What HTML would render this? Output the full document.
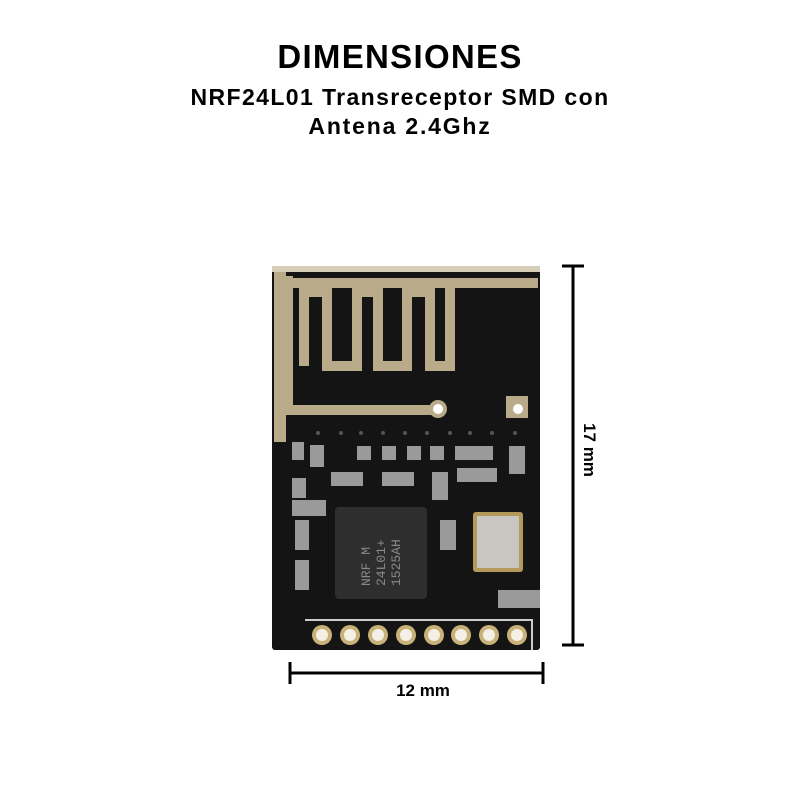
<!DOCTYPE html>
<html><head><style>
body{margin:0;width:800px;height:800px;background:#fff;overflow:hidden;position:relative;font-family:"Liberation Sans",sans-serif;}
.t{position:absolute;left:0;width:800px;text-align:center;font-weight:bold;color:#000;}
</style></head><body>
<div class="t" style="top:38px;font-size:33px;letter-spacing:1.3px">DIMENSIONES</div>
<div class="t" style="top:84px;font-size:23px;letter-spacing:1.4px">NRF24L01 Transreceptor SMD con</div>
<div class="t" style="top:113px;font-size:23px;letter-spacing:1.8px">Antena 2.4Ghz</div>
<svg width="800" height="800" style="position:absolute;left:0;top:0">
<rect x="272" y="266" width="268" height="384" fill="#141414" rx="3"/>
<rect x="272" y="266" width="268" height="6" fill="#d6ceb8"/>
<g fill="none" stroke="#b9aa8a" stroke-width="10">
<path d="M538 283 H450 V366 H430 V292 H407 V366 H378 V292 H357 V366 H327 V292 H304 V366"/>
<path d="M288 283 H450"/>
<path d="M288 276 V410 H438"/>
</g>
<rect x="274" y="272" width="12" height="170" fill="#b9aa8a"/>
<circle cx="438" cy="409" r="9" fill="#b9aa8a"/><circle cx="438" cy="409" r="5" fill="#fff"/>
<rect x="506" y="396" width="22" height="22" fill="#b9aa8a"/><circle cx="518" cy="409" r="5" fill="#fff"/>
<g fill="#555">
<circle cx="318" cy="433" r="2"/><circle cx="341" cy="433" r="2"/><circle cx="361" cy="433" r="2"/><circle cx="383" cy="433" r="2"/><circle cx="405" cy="433" r="2"/><circle cx="427" cy="433" r="2"/><circle cx="450" cy="433" r="2"/><circle cx="470" cy="433" r="2"/><circle cx="492" cy="433" r="2"/><circle cx="515" cy="433" r="2"/>
</g>
<g fill="#9a9a9a">
<rect x="292" y="442" width="12" height="18"/><rect x="310" y="445" width="14" height="22"/><rect x="357" y="446" width="14" height="14"/><rect x="382" y="446" width="14" height="14"/><rect x="407" y="446" width="14" height="14"/><rect x="430" y="446" width="14" height="14"/><rect x="455" y="446" width="38" height="14"/><rect x="509" y="446" width="16" height="28"/>
<rect x="331" y="472" width="32" height="14"/><rect x="382" y="472" width="32" height="14"/><rect x="432" y="472" width="16" height="28"/><rect x="457" y="468" width="40" height="14"/>
<rect x="292" y="478" width="14" height="20"/><rect x="292" y="500" width="34" height="16"/>
<rect x="295" y="520" width="14" height="30"/><rect x="295" y="560" width="14" height="30"/>
<rect x="440" y="520" width="16" height="30"/><rect x="498" y="590" width="42" height="18"/>
</g>
<rect x="335" y="507" width="92" height="92" fill="#2e2e2e" rx="4"/>
<g fill="#888" font-family="Liberation Mono" font-size="13" transform="rotate(-90 381 553)"><text x="348" y="542">NRF M</text><text x="348" y="557">24L01+</text><text x="348" y="572">1525AH</text></g>
<rect x="473" y="512" width="50" height="60" fill="#b39a5a" rx="3"/>
<rect x="477" y="516" width="42" height="52" fill="#c8c6c0"/>
<path d="M305 620 H532 V650" fill="none" stroke="#ccc" stroke-width="2"/>
<g fill="#c9b27a">
<circle cx="322" cy="635" r="10"/><circle cx="350" cy="635" r="10"/><circle cx="378" cy="635" r="10"/><circle cx="406" cy="635" r="10"/><circle cx="434" cy="635" r="10"/><circle cx="461" cy="635" r="10"/><circle cx="489" cy="635" r="10"/><circle cx="517" cy="635" r="10"/>
</g>
<g fill="#f4f0e6">
<circle cx="322" cy="635" r="6"/><circle cx="350" cy="635" r="6"/><circle cx="378" cy="635" r="6"/><circle cx="406" cy="635" r="6"/><circle cx="434" cy="635" r="6"/><circle cx="461" cy="635" r="6"/><circle cx="489" cy="635" r="6"/><circle cx="517" cy="635" r="6"/>
</g>
<g stroke="#000" stroke-width="3">
<line x1="573" y1="266" x2="573" y2="645"/><line x1="562" y1="266" x2="584" y2="266"/><line x1="562" y1="645" x2="584" y2="645"/>
<line x1="290" y1="673" x2="543" y2="673"/><line x1="290" y1="662" x2="290" y2="684"/><line x1="543" y1="662" x2="543" y2="684"/>
</g>
<text x="423" y="696" text-anchor="middle" font-family="Liberation Sans" font-weight="bold" font-size="17">12 mm</text>
<text x="584" y="450" text-anchor="middle" font-family="Liberation Sans" font-weight="bold" font-size="17" transform="rotate(90 584 450)">17 mm</text>
</svg>
</body></html>
